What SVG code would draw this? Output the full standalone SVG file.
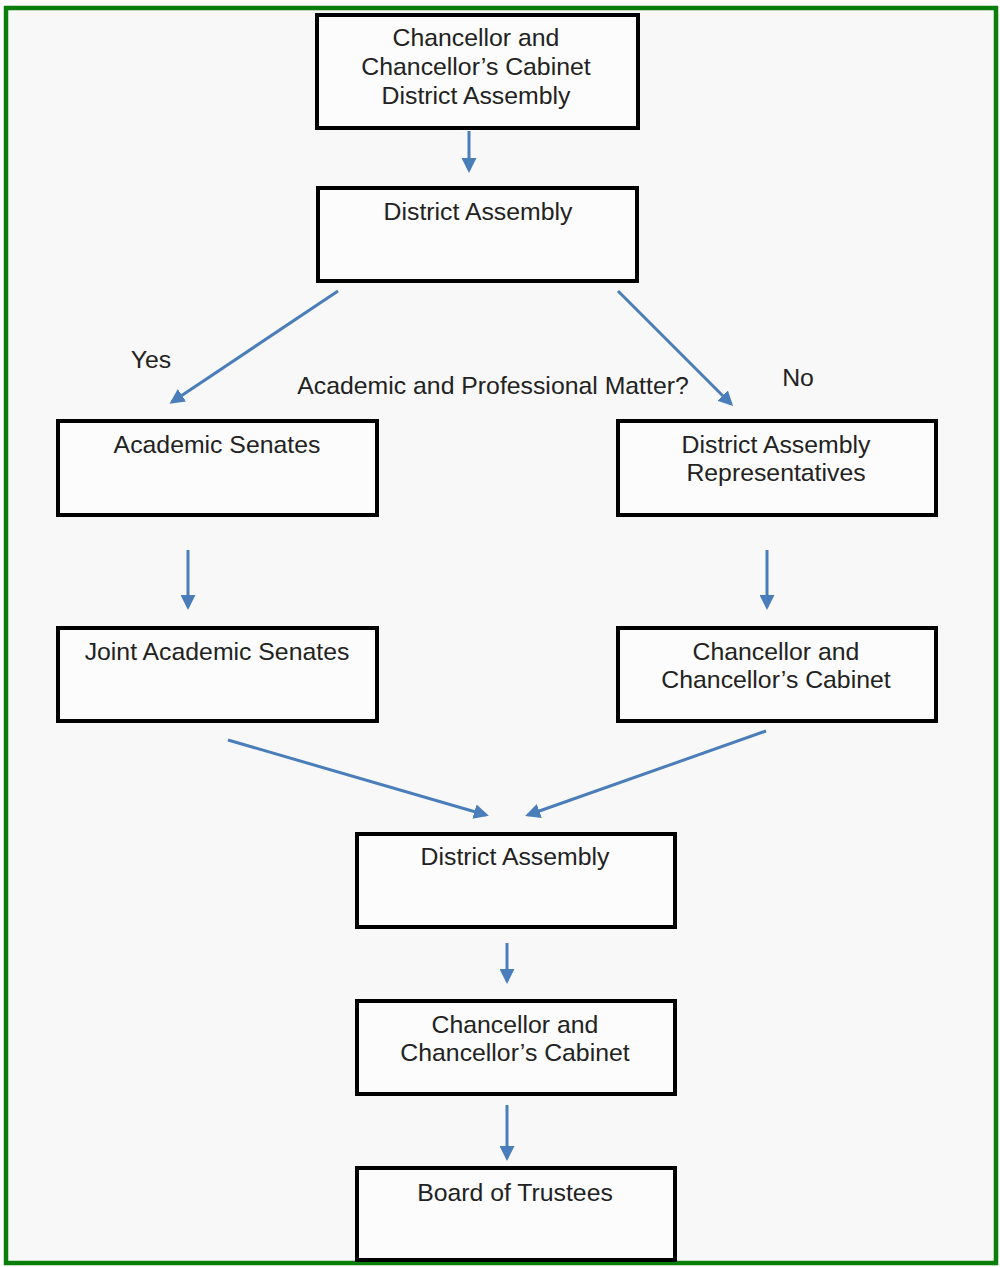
<svg xmlns="http://www.w3.org/2000/svg" width="1000" height="1267" viewBox="0 0 1000 1267">
<style>
.box{fill:#fcfcfc;stroke:#000;stroke-width:4}
.t{font-family:"Liberation Sans",Arial,sans-serif;font-size:24.8px;fill:#222;text-anchor:middle}
.c{stroke:#4a7ebb;stroke-width:3;fill:none;marker-end:url(#ah)}
</style>
<defs>
<marker id="ah" viewBox="0 0 10 10" refX="8" refY="5" markerWidth="5" markerHeight="5" orient="auto" markerUnits="strokeWidth">
<path d="M0,0 L10,5 L0,10 z" fill="#4a7ebb"/>
</marker>
</defs>
<rect x="0" y="0" width="1000" height="1267" fill="#fff"/>
<rect x="6" y="8" width="990" height="1255" fill="#f8f8f8" stroke="#0a7d0a" stroke-width="4.5"/>
<g id="connectors">
<line class="c" x1="469" y1="131" x2="469" y2="170"/>
<line class="c" x1="338" y1="291" x2="172" y2="402"/>
<line class="c" x1="618" y1="291" x2="731" y2="404"/>
<line class="c" x1="188" y1="550" x2="188" y2="607"/>
<line class="c" x1="767" y1="550" x2="767" y2="607"/>
<line class="c" x1="228" y1="740" x2="486" y2="815"/>
<line class="c" x1="766" y1="731" x2="528" y2="815"/>
<line class="c" x1="507" y1="943" x2="507" y2="981"/>
<line class="c" x1="507" y1="1105" x2="507" y2="1158"/>
</g>
<g id="labels">
<text class="t" x="151" y="368">Yes</text>
<text class="t" x="798" y="386">No</text>
<text class="t" x="493" y="394">Academic and Professional Matter?</text>
</g>
<g id="n1"><rect class="box" x="317" y="15" width="321" height="113"/>
<text class="t" x="476" y="46">Chancellor and</text>
<text class="t" x="476" y="75">Chancellor’s Cabinet</text>
<text class="t" x="476" y="104">District Assembly</text></g>
<g id="n2"><rect class="box" x="318" y="188" width="319" height="93"/>
<text class="t" x="478" y="220">District Assembly</text></g>
<g id="n3"><rect class="box" x="58" y="421" width="319" height="94"/>
<text class="t" x="217" y="453">Academic Senates</text></g>
<g id="n4"><rect class="box" x="618" y="421" width="318" height="94"/>
<text class="t" x="776" y="453">District Assembly</text>
<text class="t" x="776" y="481">Representatives</text></g>
<g id="n5"><rect class="box" x="58" y="628" width="319" height="93"/>
<text class="t" x="217" y="660">Joint Academic Senates</text></g>
<g id="n6"><rect class="box" x="618" y="628" width="318" height="93"/>
<text class="t" x="776" y="660">Chancellor and</text>
<text class="t" x="776" y="688">Chancellor’s Cabinet</text></g>
<g id="n7"><rect class="box" x="357" y="834" width="318" height="93"/>
<text class="t" x="515" y="865">District Assembly</text></g>
<g id="n8"><rect class="box" x="357" y="1001" width="318" height="93"/>
<text class="t" x="515" y="1033">Chancellor and</text>
<text class="t" x="515" y="1061">Chancellor’s Cabinet</text></g>
<g id="n9"><rect class="box" x="357" y="1168" width="318" height="92"/>
<text class="t" x="515" y="1201">Board of Trustees</text></g>
</svg>
